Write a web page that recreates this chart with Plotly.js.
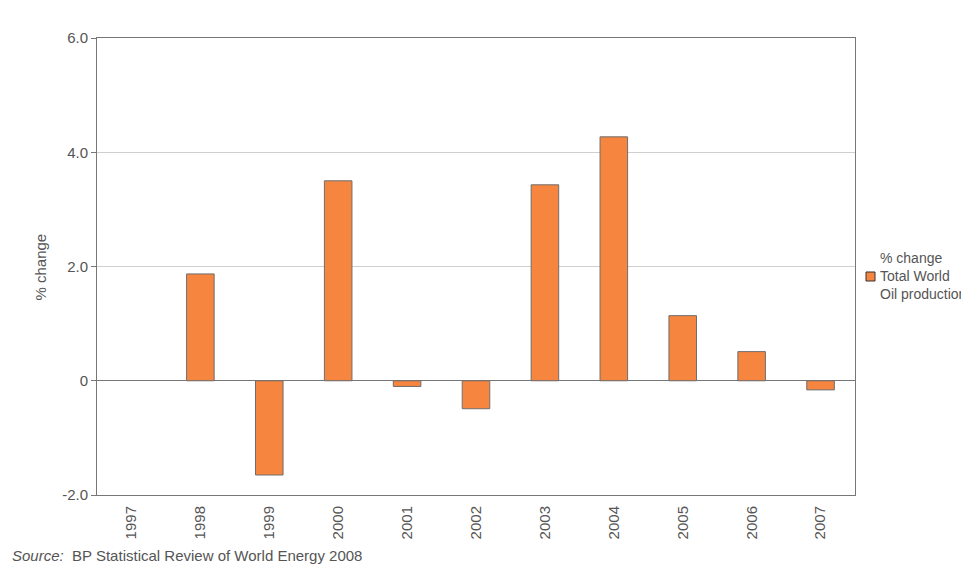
<!DOCTYPE html>
<html><head><meta charset="utf-8">
<script src="https://cdn.plot.ly/plotly-3.0.1.min.js"></script>
<style>html,body{margin:0;padding:0;background:#fff;}#chart{width:961px;height:564px;}</style>
</head><body><div id="chart"></div>
<script>
var years = ["1997","1998","1999","2000","2001","2002","2003","2004","2005","2006","2007"];
var pctChange = [null, 1.87, -1.65, 3.50, -0.10, -0.49, 3.43, 4.27, 1.14, 0.51, -0.16];
var yTickVals = [-2, 0, 2, 4, 6];
var yTickText = ["-2.0", "0", "2.0", "4.0", "6.0"];
var seriesNameLines = ["Total World", "Oil production"];
var legendTitle = "% change";
var yTitle = "% change";
var sourceText = "<i>Source:</i>  BP Statistical Review of World Energy 2008";
var barColor = "#F5853F";

// plot area in pixels (for placing the legend and notes)
var L = 97, R = 855, T = 38, B = 495;
function px(x) { return (x - L) / (R - L); }
function py(y) { return (B - y) / (B - T); }

var trace = {
  type: "bar", x: years, y: pctChange, name: seriesNameLines.join(" "),
  marker: {color: barColor, line: {color: "#6e6e6e", width: 1}},
  width: 0.4, showlegend: false
};
var fam = "Liberation Sans, Arial, sans-serif";
var font = {family: fam, size: 15, color: "#555"};
var legFont = {family: fam, size: 14, color: "#555"};
var layout = {
  width: 961, height: 564,
  margin: {l: L, r: 961 - R, t: T, b: 564 - B, autoexpand: false},
  paper_bgcolor: "#fff", plot_bgcolor: "#fff",
  font: font, showlegend: false,
  xaxis: {type: "category", tickangle: -90, showline: true, linecolor: "#777", linewidth: 1,
    mirror: true, showgrid: false, ticks: "", tickfont: font, automargin: false, ticklabelstandoff: 4},
  yaxis: {range: [-2, 6], tickvals: yTickVals, ticktext: yTickText, showline: true, linecolor: "#777",
    linewidth: 1, mirror: true, ticks: "outside", ticklen: 5, tickcolor: "#777",
    gridcolor: "#cfcfcf", zeroline: true, zerolinecolor: "#777", zerolinewidth: 1,
    tickfont: font, automargin: false},
  shapes: [{type: "rect", xref: "paper", yref: "paper", x0: px(866), x1: px(875), y0: py(281), y1: py(272),
    fillcolor: barColor, line: {color: "#333", width: 1}}],
  annotations: [
    {text: sourceText, xref: "paper", yref: "paper", x: px(10), y: py(555),
      xanchor: "left", yanchor: "middle", showarrow: false, font: font},
    {text: yTitle, xref: "paper", yref: "paper", x: px(40), y: 0.5, textangle: -90,
      xanchor: "center", yanchor: "middle", showarrow: false, font: font},
    {text: legendTitle, xref: "paper", yref: "paper", x: px(878), y: py(258),
      xanchor: "left", yanchor: "middle", showarrow: false, font: legFont},
    {text: seriesNameLines[0], xref: "paper", yref: "paper", x: px(878), y: py(276),
      xanchor: "left", yanchor: "middle", showarrow: false, font: legFont},
    {text: seriesNameLines[1], xref: "paper", yref: "paper", x: px(878), y: py(294),
      xanchor: "left", yanchor: "middle", showarrow: false, font: legFont}
  ]
};
Plotly.newPlot("chart", [trace], layout, {displayModeBar: false, staticPlot: true});
</script></body></html>
